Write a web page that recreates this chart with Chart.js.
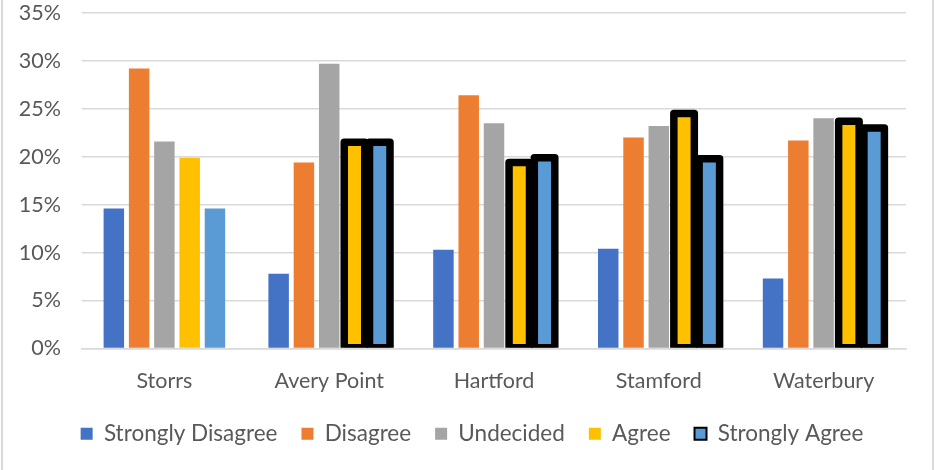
<!DOCTYPE html>
<html>
<head>
<meta charset="utf-8">
<script src="https://cdn.jsdelivr.net/npm/chart.js@4.4.0/dist/chart.umd.min.js"></script>
<style>
  html, body { margin: 0; padding: 0; background: #fff; }
  #wrap { position: relative; width: 935px; height: 470px; }
</style>
</head>
<body>
<div id="wrap"><canvas id="myChart"></canvas></div>
<script>
// Data (percent of responses)
const campuses = ["Storrs", "Avery Point", "Hartford", "Stamford", "Waterbury"];
const stronglyDisagree = [14.6, 7.8, 10.3, 10.4, 7.3];
const disagree = [29.2, 19.4, 26.4, 22.0, 21.7];
const undecided = [21.6, 29.7, 23.5, 23.2, 24.0];
const agree = [19.9, 21.5, 19.4, 24.5, 23.7];
const stronglyAgree = [14.6, 21.5, 19.9, 19.8, 23.0];
const yTicks = [0, 5, 10, 15, 20, 25, 30, 35];

// which campuses get the heavy black outline on Agree / Strongly Agree
const outlinedBars = [false, true, true, true, true];

const textColor = "#595959";
const gridColor = "#D9D9D9";
const fontFamily = "Lato, 'Noto Sans', sans-serif";

// Excel style thick outline, centred on the bar edge
const outlinePlugin = {
  id: "outline",
  afterDatasetsDraw(chart) {
    const ctx = chart.ctx;
    const area = chart.chartArea;
    chart.data.datasets.forEach((ds, i) => {
      if (!ds.outlined) return;
      const meta = chart.getDatasetMeta(i);
      meta.data.forEach((bar, j) => {
        if (!ds.outlined[j]) return;
        const p = bar.getProps(["x", "y", "base", "width"], true);
        ctx.save();
        ctx.beginPath();
        ctx.rect(area.left, area.top - 10, area.width, p.base - area.top + 10);
        ctx.clip();
        ctx.lineWidth = 7.5;
        ctx.strokeStyle = "#000";
        ctx.lineJoin = "round";
        ctx.strokeRect(p.x - p.width / 2, p.y, p.width, p.base - p.y);
        ctx.restore();
      });
    });
  },
};

// light grey frame edges on the left and right of the picture
const framePlugin = {
  id: "frame",
  beforeDraw(chart) {
    const ctx = chart.ctx;
    ctx.save();
    ctx.fillStyle = gridColor;
    ctx.fillRect(1, 0, 2, chart.height);
    ctx.fillRect(chart.width - 3, 0, 2, chart.height);
    ctx.restore();
  },
};

const ctx = document.getElementById("myChart");

new Chart(ctx, {
  type: "bar",
  data: {
    labels: campuses,
    datasets: [
      { label: "Strongly Disagree", data: stronglyDisagree, backgroundColor: "#4472C4" },
      { label: "Disagree", data: disagree, backgroundColor: "#ED7D31" },
      { label: "Undecided", data: undecided, backgroundColor: "#A5A5A5" },
      { label: "Agree", data: agree, backgroundColor: "#FFC000", outlined: outlinedBars },
      { label: "Strongly Agree", data: stronglyAgree, backgroundColor: "#5B9BD5", outlined: outlinedBars },
    ],
  },
  options: {
    responsive: true,
    maintainAspectRatio: false,
    animation: false,
    categoryPercentage: 0.767,
    barPercentage: 0.81,
    layout: {
      padding: { left: 9, right: 0, top: 1, bottom: 15 },
    },
    scales: {
      x: {
        grid: { display: false },
        border: { display: true, color: gridColor, width: 1.5 },
        ticks: {
          color: textColor,
          font: { family: fontFamily, size: 21.5 },
          padding: 12,
        },
        afterFit(scale) {
          scale.height = 50;
        },
      },
      y: {
        min: 0,
        max: 35,
        afterBuildTicks(scale) {
          scale.ticks = yTicks.map((v) => ({ value: v }));
        },
        // invisible tick marks give the gap between labels and plot
        grid: { color: gridColor, lineWidth: 1.5, drawTicks: true, tickLength: 21, tickColor: "rgba(0,0,0,0)" },
        border: { display: false },
        ticks: {
          color: textColor,
          font: { family: fontFamily, size: 21.5 },
          padding: 0,
          callback: (v) => v + "%",
        },
        afterFit(scale) {
          scale.width = 73;
        },
      },
      // empty right-hand axis, only keeps space at the right of the plot
      yRight: {
        position: "right",
        grid: { display: false },
        border: { display: false },
        ticks: { display: false },
        afterFit(scale) {
          scale.width = 29;
        },
      },
    },
    plugins: {
      tooltip: { enabled: false },
      legend: {
        position: "bottom",
        labels: {
          color: textColor,
          font: { family: fontFamily, size: 22.5 },
          boxWidth: 12,
          boxHeight: 12,
          padding: 24,
          generateLabels(chart) {
            const items = Chart.defaults.plugins.legend.labels.generateLabels(chart);
            items.forEach((it) => {
              if (it.text === "Strongly Agree") {
                it.strokeStyle = "#000";
                it.lineWidth = 2;
              } else {
                it.lineWidth = 0;
              }
            });
            return items;
          },
        },
      },
    },
  },
  plugins: [outlinePlugin, framePlugin],
});
</script>
</body>
</html>
